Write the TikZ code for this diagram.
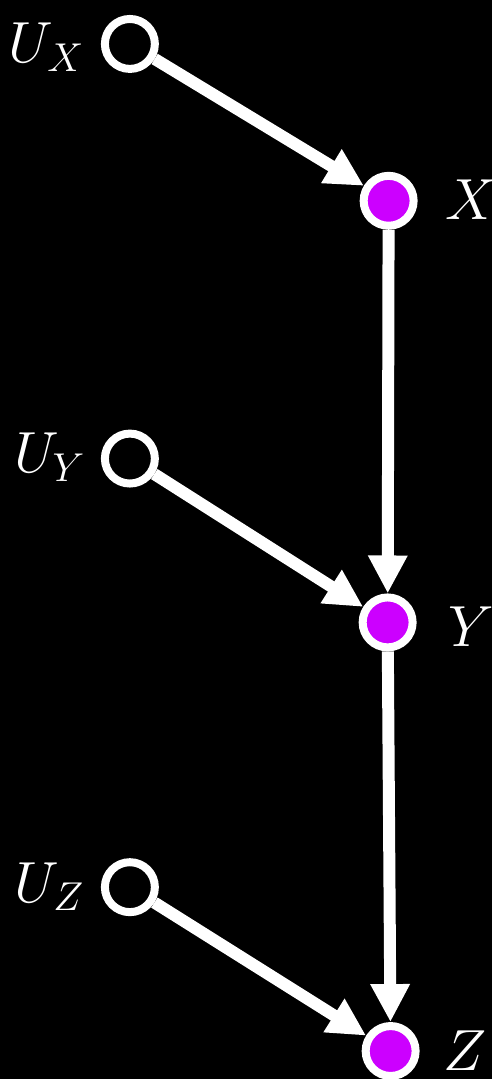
\documentclass[tikz,border=0pt]{standalone}
\usetikzlibrary{arrows.meta}
\definecolor{vmag}{RGB}{204,0,255}
\newcommand{\biglab}[1]{\scalebox{2.8}{\huge$#1$}}
\begin{document}
\begin{tikzpicture}[x=1pt,y=1pt,
  exo/.style={circle,draw=white,line width=8pt,fill=black,minimum size=50pt,inner sep=0pt},
  endo/.style={exo,fill=vmag},
  lab/.style={text=white,inner sep=0pt},
  arr/.style={draw=white,line width=12pt,-{Triangle[length=38pt,width=37pt]}}]
\fill[black] (0,0) rectangle (492,1080);
\node[exo] (ux) at (130,1036) {};
\node[endo] (x) at (389,879) {};
\node[exo] (uy) at (130,621) {};
\node[endo] (y) at (388,457) {};
\node[exo] (uz) at (130,192) {};
\node[endo] (z) at (391,28) {};
\node[lab,anchor=base east] (lux) at (85,1017) {\biglab{U_X}};
\node[lab,anchor=base east] (luy) at (86,607) {\biglab{U_Y}};
\node[lab,anchor=base east] (luz) at (85,177) {\biglab{U_Z}};
\node[lab,anchor=base west] (lx) at (446,860) {\biglab{X}};
\node[lab,anchor=base west] (ly) at (449,433) {\biglab{Y}};
\node[lab,anchor=base west] (lz) at (444,9) {\biglab{Z}};
\draw[arr] (ux) -- (x);
\draw[arr] (uy) -- (y);
\draw[arr] (uz) -- (z);
\draw[arr] (x) -- (y);
\draw[arr] (y) -- (z);
\end{tikzpicture}
\end{document}
